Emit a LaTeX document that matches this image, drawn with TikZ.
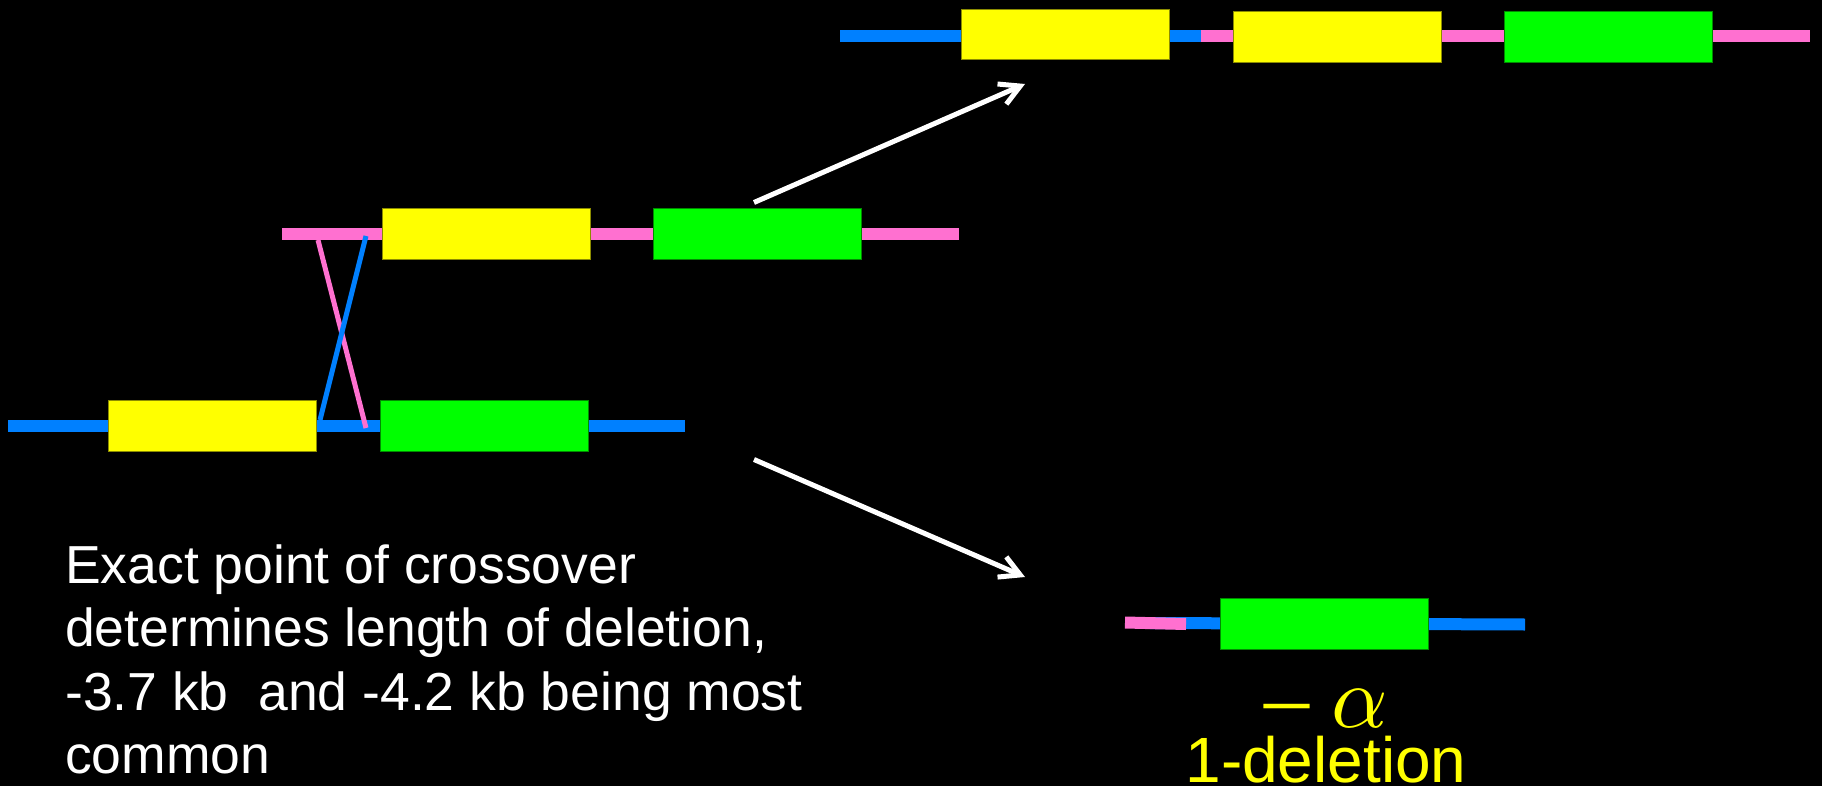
\documentclass[tikz,border=0pt]{standalone}
\usepackage{fontspec}
\usepackage{graphicx}
\setmainfont{Liberation Sans}
\newfontfamily\greekserif{Liberation Serif}
\usetikzlibrary{arrows.meta}
\definecolor{chrpink}{RGB}{255,112,208}
\definecolor{chrblue}{RGB}{0,128,255}
\definecolor{geneyellow}{RGB}{255,255,0}
\definecolor{genegreen}{RGB}{0,255,0}
\begin{document}
\begin{tikzpicture}[x=1pt,y=-1pt,
  gene/.style={rectangle, inner sep=0pt, outer sep=0pt, line width=0.8pt,
    minimum width=208pt, minimum height=51pt},
  ygene/.style={gene, fill=geneyellow, draw=geneyellow!55!black},
  ggene/.style={gene, fill=genegreen, draw=genegreen!55!black},
  bar/.style={line width=12pt},
  cross/.style={line width=5pt},
  arr/.style={draw=white, line width=5pt,
    -{Straight Barb[length=20pt,width=22pt]}},
  note/.style={inner sep=0pt, text=white, anchor=base west,
    font=\fontsize{53.5}{63}\selectfont},
  yellowtxt/.style={inner sep=0pt, text=geneyellow, anchor=base}
]
% canvas
\useasboundingbox (0,0) rectangle (1822,786);
\fill[black] (0,0) rectangle (1822,786);

% ---- top: recombinant chromosome with three genes ----
\coordinate (tL) at (840,36.5);
\coordinate (tJ) at (1201,36.5);
\coordinate (tR) at (1810,36.5);
\draw[bar, chrblue] (tL) -- (tJ);
\draw[bar, chrpink] (tJ) -- (tR);
\node[ygene, minimum height=50pt] (ty1) at (1065,34) {};
\node[ygene] (ty2) at (1337,36.5) {};
\node[ggene] (tg) at (1608.5,36.5) {};

% ---- middle: misaligned pair of chromosomes ----
\coordinate (mL) at (282,234);
\coordinate (mR) at (959,234);
\draw[bar, chrpink] (mL) -- (mR);
\node[ygene] (my) at (486,233.5) {};
\node[ggene] (mg) at (757.5,233.5) {};

\coordinate (bL) at (8,426);
\coordinate (bR) at (685,426);
\draw[bar, chrblue] (bL) -- (bR);
\node[ygene] (by) at (212,425.5) {};
\node[ggene] (bg) at (484,425.5) {};

% crossover strands
\coordinate (pTop) at (318,240);
\coordinate (pBot) at (366,428);
\coordinate (qTop) at (366,236);
\coordinate (qBot) at (320,420);
\draw[cross, chrpink] (pTop) -- (pBot);
\draw[cross, chrblue] (qBot) -- (qTop);

% ---- products ----
\coordinate (a1s) at (754,202.5);
\coordinate (a1e) at (1025,84);
\coordinate (a2s) at (754,459.5);
\coordinate (a2e) at (1025,577);
\draw[arr] (a1s) -- (a1e);
\draw[arr] (a2s) -- (a2e);

% bottom right: chromosome carrying a single gene
\coordinate (sL) at (1150,623);
\coordinate (sR) at (1525,624.5);
\coordinate (sp1) at (1125,622.5);
\coordinate (sp2) at (1186,624);
\draw[bar, chrblue] (sL) -- (sR);
\draw[bar, chrpink] (sp1) -- (sp2);
\node[ggene] (sg) at (1324,623.5) {};

\node[yellowtxt, font=\greekserif\fontsize{90}{100}\selectfont] (alpha) at (1326,727)
  {–\hspace{0.24em}\scalebox{8.8}{\fontsize{10}{12}\selectfont$\alpha$}};
\node[yellowtxt, font=\fontsize{64}{70}\selectfont] (del) at (1326,782) {1-deletion};

% explanatory note
\node[note] (n1) at (65,583) {Exact point of crossover};
\node[note] (n2) at (65,646.5) {determines length of deletion,};
\node[note] (n3) at (65,710) {-3.7 kb\ \ and -4.2 kb being most};
\node[note] (n4) at (65,773) {common};
\end{tikzpicture}
\end{document}
